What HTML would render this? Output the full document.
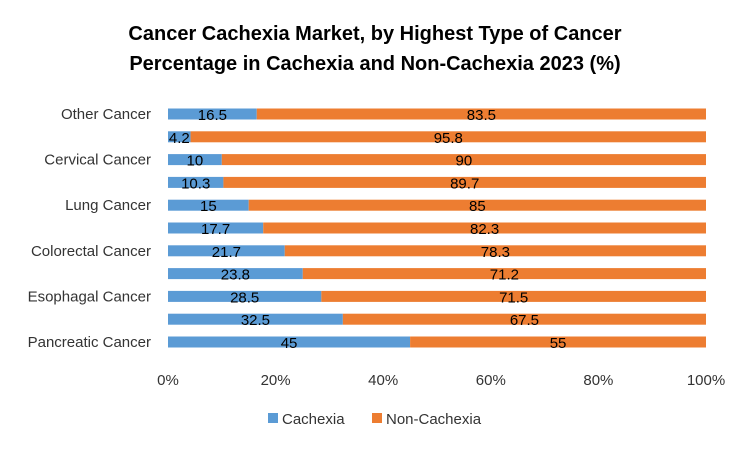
<!DOCTYPE html>
<html><head><meta charset="utf-8"><style>
body{margin:0;background:#fff;font-family:"Liberation Sans",Arial,sans-serif}
svg text{font-family:"Liberation Sans",Arial,sans-serif}
</style></head><body>
<svg id="chart" width="750" height="450">
<text x="375" y="40" text-anchor="middle" font-size="20" font-weight="bold" fill="#000">Cancer Cachexia Market, by Highest Type of Cancer</text>
<text x="375" y="70" text-anchor="middle" font-size="20" font-weight="bold" fill="#000">Percentage in Cachexia and Non-Cachexia 2023 (%)</text>
<g id="bars"></g><g id="ylabels"></g><g id="xticks"></g>
<g>
<rect x="268" y="413" width="10" height="10" fill="#5B9BD5"/>
<text x="282" y="424" font-size="15" fill="#333">Cachexia</text>
<rect x="372" y="413" width="10" height="10" fill="#ED7D31"/>
<text x="386" y="424" font-size="15" fill="#333">Non-Cachexia</text>
</g>
</svg>
<script>
const categories=["Pancreatic Cancer","Gastric Cancer","Esophagal Cancer","Head and Neck Cancer","Colorectal Cancer","Liver Cancer","Lung Cancer","Ovarian Cancer","Cervical Cancer","Breast Cancer","Other Cancer"];
const showLabel=[true,false,true,false,true,false,true,false,true,false,true];
const cachexia=[45,32.5,28.5,23.8,21.7,17.7,15,10.3,10,4.2,16.5];
const nonCachexia=[55,67.5,71.5,71.2,78.3,82.3,85,89.7,90,95.8,83.5];
const xTicks=[0,20,40,60,80,100];
const NS="http://www.w3.org/2000/svg";
const x0=168,x1=706,yBottom=342,step=22.8,bh=11;
const xs=p=>x0+(x1-x0)*p/100;
const yc=i=>yBottom-i*step;
function mk(tag,attrs,parent,txt){const e=document.createElementNS(NS,tag);for(const k in attrs)e.setAttribute(k,attrs[k]);if(txt!==undefined)e.textContent=txt;parent.appendChild(e);return e;}
const gb=document.getElementById('bars'),gy=document.getElementById('ylabels'),gx=document.getElementById('xticks');
categories.forEach((c,i)=>{
 const tot=cachexia[i]+nonCachexia[i];
 const p1=cachexia[i]/tot*100;
 const y=yc(i);
 const r1=mk('rect',{x:xs(0),y:y-bh/2,width:xs(p1)-xs(0),height:bh,fill:'#5B9BD5'},gb);
 
 
 const r2=mk('rect',{x:xs(p1),y:y-bh/2,width:xs(100)-xs(p1),height:bh,fill:'#ED7D31'},gb);
 
 
 const t1=mk('text',{x:(xs(0)+xs(p1))/2,y:y+6,'text-anchor':'middle','font-size':15,fill:'#000'},gb,String(cachexia[i]));
 
 
 const t2=mk('text',{x:(xs(p1)+xs(100))/2,y:y+6,'text-anchor':'middle','font-size':15,fill:'#000'},gb,String(nonCachexia[i]));
 
 
 if(showLabel[i]){
  const l=mk('text',{x:151,y:y+5,'text-anchor':'end','font-size':15,fill:'#333'},gy,c);
  
  
 }
});
xTicks.forEach(t=>{
 const e=mk('text',{x:xs(t),y:385,'text-anchor':'middle','font-size':15,fill:'#333'},gx,t+'%');
 
 
});
</script>
</body></html>
